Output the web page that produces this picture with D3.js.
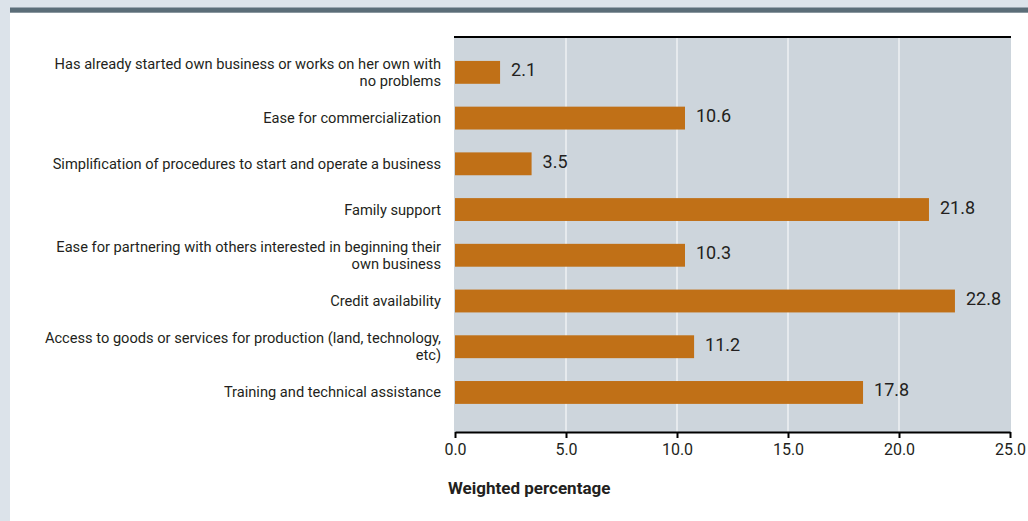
<!DOCTYPE html>
<html>
<head>
<meta charset="utf-8">
<script src="https://cdn.jsdelivr.net/npm/d3@7"></script>
<style>
  body { margin: 0; background: #dce3ea; }
  svg { display: block; }
  .cat { font-family: Roboto, "Open Sans", sans-serif; font-size: 14.65px; fill: #231f20; }
  .val { font-family: Roboto, "Open Sans", sans-serif; font-size: 18px; fill: #231f20; }
  .axis text { font-family: Roboto, "Open Sans", sans-serif; font-size: 16px; fill: #231f20; }
</style>
</head>
<body>
<div id="chart"></div>
<script>
var width = 1028, height = 521;

// categories, top to bottom
var categories = [
  "Has already started own business or works on her own with\nno problems",
  "Ease for commercialization",
  "Simplification of procedures to start and operate a business",
  "Family support",
  "Ease for partnering with others interested in beginning their\nown business",
  "Credit availability",
  "Access to goods or services for production (land, technology,\netc)",
  "Training and technical assistance"
];
// printed values
var shares = [2.1, 10.6, 3.5, 21.8, 10.3, 22.8, 11.2, 17.8];
// bar lengths as drawn in the picture (they do not quite follow the labels)
var barLengths = [2.03, 10.36, 3.45, 21.35, 10.36, 22.52, 10.77, 18.38];
var xTicks = [0, 5, 10, 15, 20, 25];

var plot = { left: 455, right: 1010, top: 37, bottom: 432 };

var svg = d3.select("#chart")
  .append("svg")
  .attr("width", width)
  .attr("height", height);

// white panel and top rule
svg.append("rect")
  .attr("x", 10).attr("y", 8)
  .attr("width", width - 10).attr("height", height - 8)
  .attr("fill", "#ffffff");
svg.append("rect")
  .attr("x", 10).attr("y", 7.5)
  .attr("width", width - 10).attr("height", 5.2)
  .attr("fill", "#5b6d78");

var x = d3.scaleLinear().domain([0, 25]).range([plot.left, plot.right]);
var y = d3.scaleBand()
  .domain(d3.range(categories.length))
  .range([plot.top - 1, plot.bottom])
  .paddingInner(0.5)
  .paddingOuter(0.58)
  .align(0.47);

// plot background
svg.append("rect")
  .attr("x", plot.left - 1).attr("y", plot.top)
  .attr("width", plot.right - plot.left + 2).attr("height", plot.bottom - plot.top)
  .attr("fill", "#cdd5dc");

// gridlines
svg.append("g")
  .selectAll("line")
  .data(xTicks.slice(1, -1))
  .join("line")
  .attr("x1", function(d) { return x(d); })
  .attr("x2", function(d) { return x(d); })
  .attr("y1", plot.top)
  .attr("y2", plot.bottom)
  .attr("stroke", "#ffffff")
  .attr("stroke-width", 1);

// top border line
svg.append("line")
  .attr("x1", plot.left - 1).attr("x2", plot.right + 1)
  .attr("y1", plot.top).attr("y2", plot.top)
  .attr("stroke", "#000").attr("stroke-width", 2);

// bars
svg.append("g")
  .selectAll("rect")
  .data(barLengths)
  .join("rect")
  .attr("x", x(0))
  .attr("y", function(d, i) { return y(i); })
  .attr("width", function(d) { return x(d) - x(0); })
  .attr("height", y.bandwidth())
  .attr("fill", "#c07017");

// value labels
svg.append("g")
  .selectAll("text")
  .data(shares)
  .join("text")
  .attr("class", "val")
  .attr("x", function(d, i) { return x(barLengths[i]) + 11; })
  .attr("y", function(d, i) { return y(i) + y.bandwidth() / 2 + 4; })
  .text(function(d) { return d.toFixed(1); });

// category labels, split on \n
var cats = svg.append("g")
  .selectAll("text")
  .data(categories)
  .join("text")
  .attr("class", "cat")
  .attr("text-anchor", "end")
  .attr("y", function(d, i) { return y(i) + y.bandwidth() / 2; });

cats.each(function(d) {
  var lines = d.split("\n");
  var t = d3.select(this);
  var lh = 17;
  lines.forEach(function(line, k) {
    t.append("tspan")
      .attr("x", 441)
      .attr("dy", k === 0 ? (5 - (lines.length - 1) * lh / 2) : lh)
      .text(line);
  });
});

// x axis
var xAxis = d3.axisBottom(x)
  .tickValues(xTicks)
  .tickFormat(d3.format(".1f"))
  .tickSize(6)
  .tickSizeOuter(0)
  .tickPadding(6);

var gx = svg.append("g")
  .attr("class", "axis")
  .attr("transform", "translate(0," + plot.bottom + ")")
  .call(xAxis);
gx.select(".domain").attr("stroke", "#000").attr("stroke-width", 2);
gx.selectAll(".tick line").attr("stroke", "#000").attr("stroke-width", 2);

svg.append("text")
  .attr("x", 448)
  .attr("y", 494)
  .attr("font-family", "Roboto, 'Open Sans', sans-serif")
  .attr("font-size", 17)
  .attr("font-weight", "bold")
  .attr("fill", "#231f20")
  .text("Weighted percentage");
</script>
</body>
</html>
